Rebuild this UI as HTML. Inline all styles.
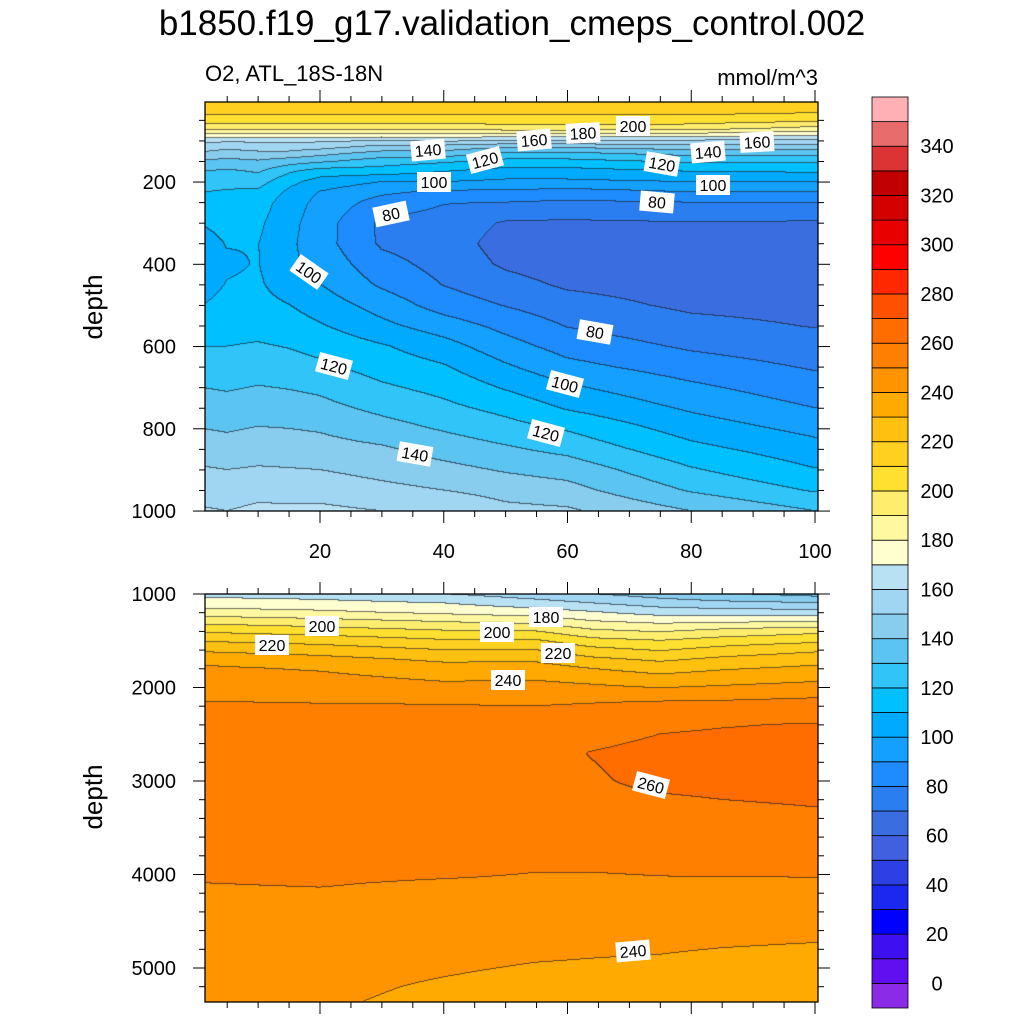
<!DOCTYPE html>
<html><head><meta charset="utf-8"><style>
body{margin:0;background:#fff;width:1024px;height:1024px;overflow:hidden;position:relative;font-family:"Liberation Sans",sans-serif}
canvas{position:absolute}
svg{position:absolute;left:0;top:0}
</style></head><body>
<canvas id="cTop" width="613" height="409" style="left:205px;top:102px"></canvas>
<canvas id="cBot" width="613" height="408" style="left:205px;top:594px"></canvas>
<svg id="ov" width="1024" height="1024">
<text x="512" y="35" font-size="35" text-anchor="middle">b1850.f19_g17.validation_cmeps_control.002</text>
<text x="205" y="81" font-size="22">O2, ATL_18S-18N</text>
<text x="818" y="85" font-size="22" text-anchor="end">mmol/m^3</text>
<text transform="translate(102,307) rotate(-90)" font-size="26" text-anchor="middle">depth</text>
<text transform="translate(102,797) rotate(-90)" font-size="26" text-anchor="middle">depth</text>
<g id="labels" font-size="16" text-anchor="middle"></g>
</svg>
<script>
// ---------- data ----------
const topX=[1,5,10,15,20,30,40,50,60,80,100];
const topDepth=[5,30,50,70,85,100,115,130,150,175,200,225,250,300,350,400,450,500,550,600,650,700,750,800,850,900,950,1000];
const topCol1=[215,213,205,193,178,163,155,149,139,130,125,120,117,110.5,106,104,106,110,116,120,125,130,135,140,145,151,156,161];
const topCol5=[215,213,205,193,178,162,153,146,137,128,123,119,116,113,110.5,108.5,110.5,113,116,120,124.5,129,134,139,144,150,155,160];
const topCol10=[215,213,205,193,178,162,155,148,139,131,124,118,115,112,110.3,110.5,111.5,113.5,116.5,121,125.5,130.5,135.5,140.5,145.5,151,157,162];
const topCol15=[215,213,205,193,178,162,155,148,135,121.5,113,108,105,103,102,102,105,110.3,114.5,119.5,124,129.5,134.5,140,145,150.5,156,162];
const topCol20=[215,213,205,193,178,162,154,144,132,115,106,99.5,97,95,94.5,97,100.3,105.5,111,117,122,128,133,139,144,150,156.5,162];
const topCol30=[215,213,205,193,178,160,147,137,125,115,100,92,86,78,78.5,83.5,88.5,96,102.5,111,116,121.5,127.5,134,141.5,146.5,153,160];
const topCol40=[215,213,205,193,178,162,146,137,122,110,100,88,80.5,76,75,76.5,79.7,85.5,95,104,111,117,122.5,129,136,143,150,160];
const topCol50=[215,213,205,196,177,160,142,129,117,106,98,88,80,69,66,68.5,73.5,79.5,87,94,101.5,109,117,124,131.5,139,146,153];
const topCol60=[215,213,205,196,177,160,142,129,117,106,98,86,78.5,68.5,65,65,68.5,74,79.5,86,93,101.5,109,119,127,136,143.5,151.5];
const topCol80=[215,213,205,195,177,159,146,134,122,110,100,90,80,69.5,66,64.5,65.5,68,73,78.5,85,92,98.5,105.5,113,121,129,140];
const topCol100=[215,211,203,187,173,157,146,135,122,111,100,90,80,69,66,65,65,66.5,69.5,74,79,84,90,97,104,110.5,119,130];
const topCols=[topCol1,topCol5,topCol10,topCol15,topCol20,topCol30,topCol40,topCol50,topCol60,topCol80,topCol100];

const botX=[1,20,40,55,64,75,85,100];
const botDepth=[1000,1100,1200,1300,1400,1500,1600,1700,1800,1950,2150,2400,2700,3000,3300,3600,3900,4100,4300,4600,4900,5200,5400];
const botCol1=[167,174.5,184.5,197,208.5,219,228,237,241.5,245,250,253,255,255.5,255.5,255,253,249.9,248,246,244.5,243.5,243];
const botCol20=[165,173,182,194,205,216,225,233,239,244,249.7,253,255,256,256,255.5,253,250.5,248,245.5,243.5,242,241];
const botCol40=[160,170,178,190,201,211,220,228,234,240.5,249.5,253,256,257,257,256,253,249,247,244.5,242,239,237.5];
const botCol55=[154,164,175,187,200,211,220,228,234.5,241,249,254,257.5,258.5,258,257,251,248.5,246.5,243.5,240.5,237,235.5];
const botCol64=[150,160,171,181,192,203,213,222,230,239,249.5,255,260.3,259,257.5,255.5,251,248.5,246,243,240,236.5,235];
const botCol75=[145,155,166,178,189,200,209,218,226,236,250,258.5,263,262,257.5,255,251.5,249,246.5,243,239.5,236.5,235];
const botCol85=[141,152.5,165,179,193,204,213.5,222,229,238,250.5,259.5,263.5,262.5,258.8,255.5,251.8,249,246.7,242.5,238.5,235.7,234.5];
const botCol100=[136,150.5,164,180,197,207.5,218,226,232,240.5,252,260.5,264,263,259.8,256,252,249,247,242,237.5,235,234];
const botCols=[botCol1,botCol20,botCol40,botCol55,botCol64,botCol75,botCol85,botCol100];

const levelColors=["#8B2BE8","#6010F0","#3C10F0","#0000FF","#1A28F0","#2C40E4","#4060E0","#3A6EE0","#2A7EF0","#1E8CFF","#14A0FF","#00AAFF","#00C0FF","#30C4F8","#5CC4F0","#88CCEE","#A0D6F2","#B8E2F4","#FFFFD0","#FFF8A0","#FFEE6E","#FFE030","#FFD020","#FFC010","#FFAA00","#FF9400","#FF8000","#FF6C00","#FF5000","#FF2800","#FF0000","#E80000","#D40000","#C00000","#DC3434","#E86C6C","#FFB0B4"];
const cbLabels=[0,20,40,60,80,100,120,140,160,180,200,220,240,260,280,300,320,340];
const xTicks=[20,40,60,80,100];
const topYTicks=[200,400,600,800,1000];
const botYTicks=[1000,2000,3000,4000,5000];

// ---------- axes ----------
const PL=205,PR=818;
const xToPx=x=>196.25+6.1875*x;
const topY=d=>99.8+0.41125*d;
const botY=d=>594+0.0935*(d-1000);
const TOP={t:102,b:511}, BOT={t:594,b:1002};

function seg(arr,v){let i=0;while(i<arr.length-2&&v>arr[i+1])i++;let f=(v-arr[i])/(arr[i+1]-arr[i]);f=Math.max(0,Math.min(1,f));return [i,f];}
function field(xs,ds,cols,x,d){const [i,fx]=seg(xs,x);const [j,fd]=seg(ds,d);
 const a=cols[i][j]*(1-fd)+cols[i][j+1]*fd, b=cols[i+1][j]*(1-fd)+cols[i+1][j+1]*fd;return a*(1-fx)+b*fx;}
const rgb=levelColors.map(h=>[parseInt(h.slice(1,3),16),parseInt(h.slice(3,5),16),parseInt(h.slice(5,7),16)]);
function bin(v){return Math.max(0,Math.min(36,Math.floor(v/10)+1));}
function render(id,xs,ds,cols,top,yInv){
 const cv=document.getElementById(id),ctx=cv.getContext('2d'),W=cv.width,H=cv.height;
 const B=new Int16Array(W*H);
 for(let j=0;j<H;j++){const d=yInv(top+j+0.5);for(let i=0;i<W;i++){const x=(PL+i+0.5-196.25)/6.1875;B[j*W+i]=bin(field(xs,ds,cols,x,d));}}
 const img=ctx.createImageData(W,H);
 for(let j=0;j<H;j++)for(let i=0;i<W;i++){const k=j*W+i,b=B[k];let c=rgb[b];
  let line=(i<W-1&&B[k+1]!==b)||(j<H-1&&B[k+W]!==b);
  const p=k*4; if(line){img.data[p]=c[0]*0.35+20;img.data[p+1]=c[1]*0.35+20;img.data[p+2]=c[2]*0.35+25;}else{img.data[p]=c[0];img.data[p+1]=c[1];img.data[p+2]=c[2];}
  img.data[p+3]=255;}
 ctx.putImageData(img,0,0);
}
render('cTop',topX,topDepth,topCols,TOP.t,y=>(y-99.8)/0.41125);
render('cBot',botX,botDepth,botCols,BOT.t,y=>(y-594)/0.0935+1000);

const NS="http://www.w3.org/2000/svg",ov=document.getElementById('ov');
function mk(tag,attrs){const e=document.createElementNS(NS,tag);for(const k in attrs)e.setAttribute(k,attrs[k]);ov.appendChild(e);return e;}
function line(x1,y1,x2,y2,w){const l=mk('line',{x1,y1,x2,y2,stroke:'#000','stroke-width':w||1});

return l;}
[[TOP,'top-plot-frame'],[BOT,'bottom-plot-frame']].forEach(([P,n])=>{const r=mk('rect',{x:PL,y:P.t,width:PR-PL,height:P.b-P.t,fill:'none',stroke:'#000','stroke-width':1.3});

});
for(let x=5;x<=100;x+=5){const px=xToPx(x),maj=x%20===0,L=maj?12:6;
 [TOP.t,BOT.t].forEach(y=>line(px,y,px,y-L));[TOP.b,BOT.b].forEach(y=>line(px,y,px,y+L));}
xTicks.forEach(x=>{const t=mk('text',{x:xToPx(x),y:558,'font-size':20,'text-anchor':'middle'});t.textContent=x;

});
for(let d=50;d<=1000;d+=50){const y=topY(d),maj=d%200===0,L=maj?12:6;line(PL,y,PL-L,y);line(PR,y,PR+L,y);}
topYTicks.forEach(d=>{const t=mk('text',{x:176,y:topY(d)+7,'font-size':20,'text-anchor':'end'});t.textContent=d;

});
for(let d=1200;d<=5200;d+=200){const y=botY(d),maj=d%1000===0,L=maj?12:6;line(PL,y,PL-L,y);line(PR,y,PR+L,y);}
line(PL,botY(1000),PL-12,botY(1000));line(PR,botY(1000),PR+12,botY(1000));
botYTicks.forEach(d=>{const t=mk('text',{x:176,y:botY(d)+7,'font-size':20,'text-anchor':'end'});t.textContent=d;

});
const cbTop=97,cbBot=1008,cbH=(cbBot-cbTop)/37;
levelColors.forEach((c,i)=>{const y=cbBot-(i+1)*cbH;const r=mk('rect',{x:872,y:y,width:36,height:cbH,fill:c,stroke:'#000','stroke-width':0.8});

});
cbLabels.forEach(v=>{const y=cbBot-(v/10+1)*cbH;const t=mk('text',{x:937,y:y+7,'font-size':20,'text-anchor':'middle'});t.textContent=v;

});
const lblVals=[140,160,180,200,160,140,120,120,100,100,80,80,100,80,100,120,120,140,200,220,180,200,220,240,260,240];
const lblPos=[[428,150,-5],[534,140,-5],[583,133,-3],[633,126,0],[757,142,-3],[708,152,-5],[485,160,-15],[662,164,10],[434,182,0],[713,185,0],[391,214,-12],[657,202,5],[309,272,35],[595,332,10],[565,384,15],[334,366,15],[546,433,15],[415,454,10],[322,626,0],[272,645,0],[546,617,0],[497,632,0],[558,653,0],[508,680,0],[651,785,15],[633,951,-5]];
const lg=document.getElementById('labels');
lblVals.forEach((v,i)=>{const [x,y,r]=lblPos[i];const g=document.createElementNS(NS,'g');g.setAttribute('transform',`translate(${x},${y}) rotate(${r})`);


const b=document.createElementNS(NS,'rect');b.setAttribute('x',-17);b.setAttribute('y',-10);b.setAttribute('width',34);b.setAttribute('height',20);b.setAttribute('fill','#fff');
const t=document.createElementNS(NS,'text');t.setAttribute('y',6);t.textContent=v;g.appendChild(b);g.appendChild(t);lg.appendChild(g);});
</script>
</body></html>
